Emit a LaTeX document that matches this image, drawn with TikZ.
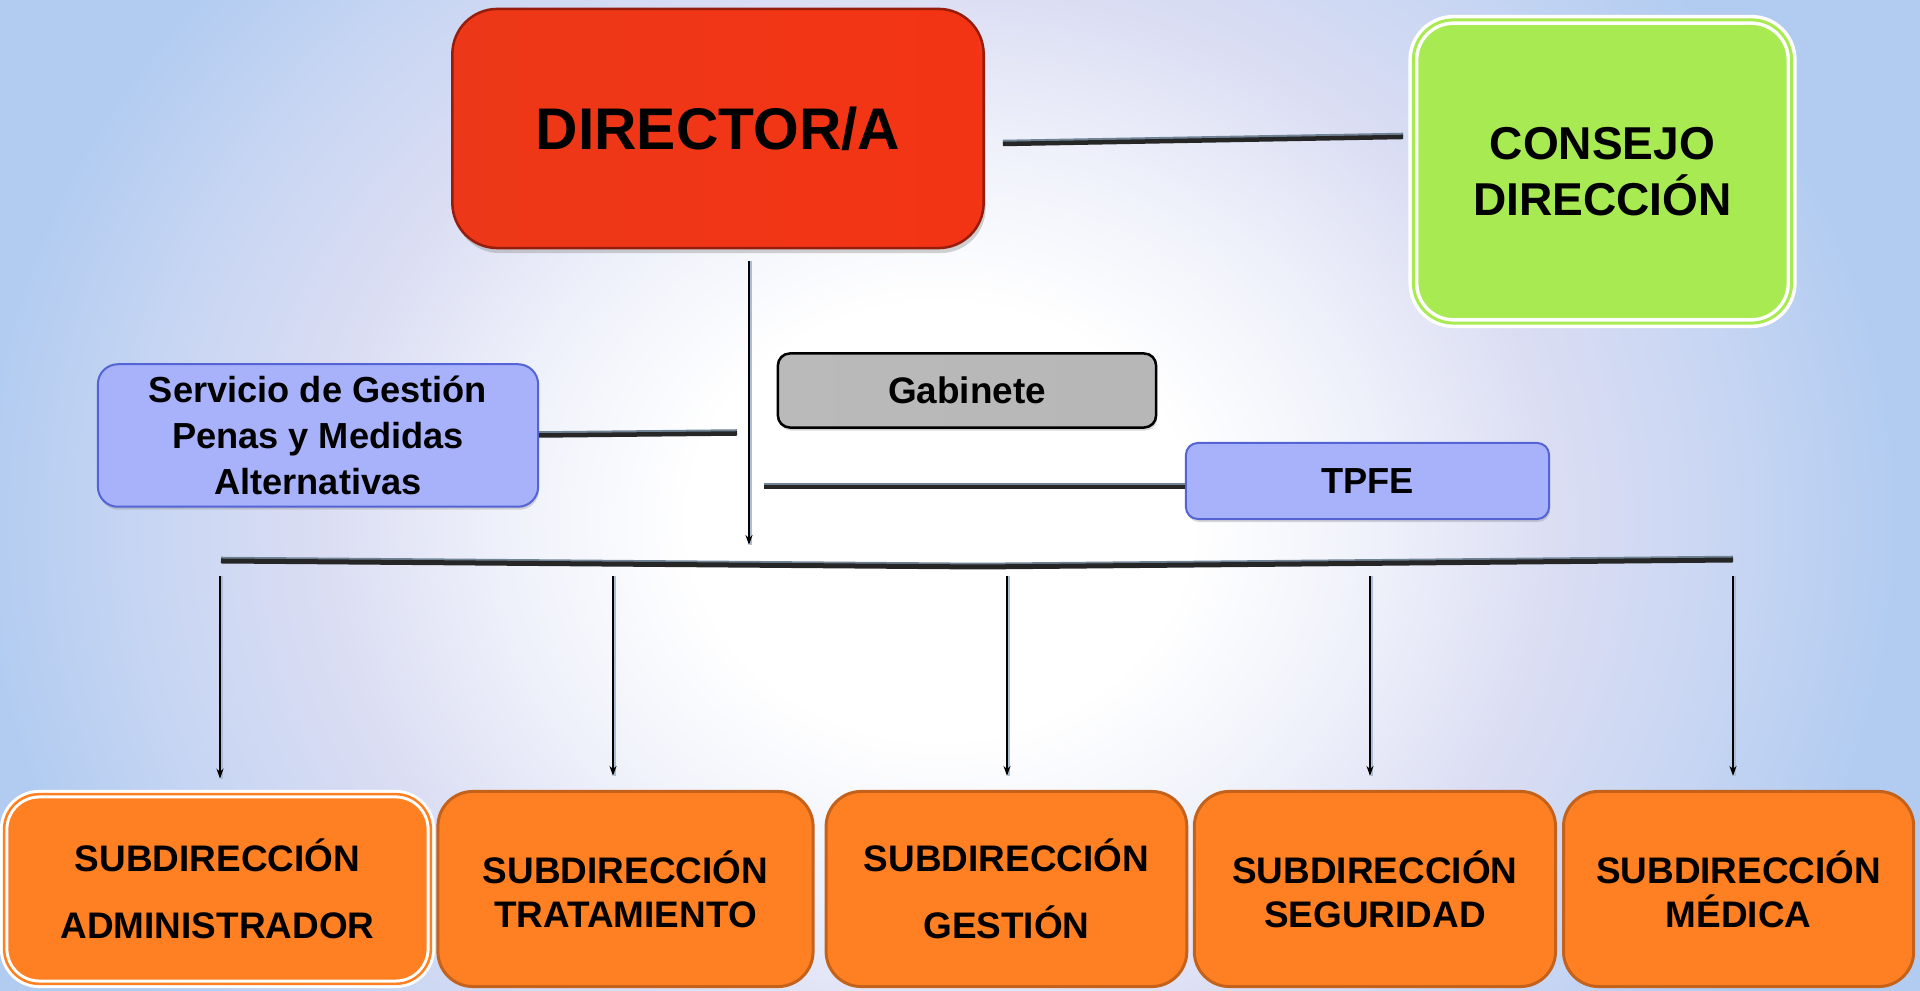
\documentclass[tikz,border=0pt]{standalone}
\usepackage{fontspec}
\setmainfont{Liberation Sans}
\usepackage{tikz}
\usepackage{xcolor}
\usetikzlibrary{positioning}
\usetikzlibrary{calc}
\usetikzlibrary{shadows}
\usetikzlibrary{arrows.meta}

\definecolor{bgblue}{RGB}{178,204,241}
\definecolor{bgmid}{RGB}{200,214,243}
\definecolor{bglav}{RGB}{218,221,243}
\definecolor{bgpale}{RGB}{241,243,251}
\definecolor{dirred}{RGB}{255,46,14}
\definecolor{dirdark}{RGB}{236,56,24}
\definecolor{dirline}{RGB}{150,28,12}
\definecolor{consegreen}{RGB}{168,234,82}
\definecolor{suborange}{RGB}{255,128,34}
\definecolor{subline}{RGB}{196,98,28}
\definecolor{bluemid}{RGB}{130,146,250}
\definecolor{bluelight}{RGB}{168,178,251}
\definecolor{blueline}{RGB}{84,100,212}
\definecolor{graymid}{RGB}{152,152,152}
\definecolor{graylight}{RGB}{186,186,186}
\definecolor{lineshade}{RGB}{112,132,150}
\definecolor{arrshade}{RGB}{170,190,215}

\pgfdeclareradialshading{bgshade}{\pgfpoint{0bp}{0bp}}{color(0bp)=(white); color(6bp)=(white); color(10bp)=(bgpale); color(15bp)=(bglav); color(19bp)=(bgmid); color(23bp)=(bgblue); color(50bp)=(bgblue)}

\begin{document}
\begin{tikzpicture}[x=0.01cm, y=0.01cm, align=center, font=\bfseries,
	dirnode/.style={rectangle, rounded corners=0.45cm, draw=dirline, line width=0.025cm, left color=dirdark, middle color=dirred, right color=dirdark!60!dirred, minimum width=5.31cm, minimum height=2.39cm, drop shadow={opacity=0.35, shadow xshift=0.02cm, shadow yshift=-0.05cm}, font=\bfseries\fontsize{16.7}{20}\selectfont},
	consejonode/.style={rectangle, rounded corners=0.4cm, fill=consegreen, draw=white, double=consegreen, line width=0.035cm, double distance=0.03cm, minimum width=3.78cm, minimum height=3.03cm, drop shadow={opacity=0.25, shadow xshift=0.02cm, shadow yshift=-0.04cm}, font=\bfseries\fontsize{13.1}{15.9}\selectfont},
	graynode/.style={rectangle, rounded corners=0.12cm, draw=black, line width=0.025cm, left color=graylight, middle color=graymid, right color=graylight!90!graymid, minimum width=3.78cm, minimum height=0.74cm, drop shadow={opacity=0.3, shadow xshift=0.01cm, shadow yshift=-0.03cm}, font=\bfseries\fontsize{10.5}{12.5}\selectfont},
	bluenode/.style={rectangle, draw=blueline, line width=0.02cm, left color=bluelight, middle color=bluemid, right color=bluelight, drop shadow={opacity=0.3, shadow xshift=0.01cm, shadow yshift=-0.03cm}, font=\bfseries\fontsize{10.3}{13.1}\selectfont},
	subnode/.style={rectangle, rounded corners=0.35cm, fill=suborange, draw=subline, line width=0.03cm, minimum width=#1, minimum height=1.95cm, font=\bfseries\fontsize{10.5}{12.5}\selectfont},
	subwhite/.style={draw=white, double=suborange, line width=0.03cm, double distance=0.025cm, minimum height=1.895cm},
	conn/.style={line width=0.045cm, draw=black!85, preaction={draw=lineshade, line width=0.045cm, transform canvas={yshift=0.02cm}}},
	arr/.style={line width=0.018cm, draw=black, ->, >={Stealth[length=0.1cm, width=0.07cm]}, preaction={draw=arrshade, -, line width=0.025cm, transform canvas={xshift=0.018cm}}}]

	% background
	\useasboundingbox (0,0) rectangle (1920,991);
	\begin{scope}
		\clip (0,0) rectangle (1920,991);
		\shade[shading=bgshade] (-100,-430) rectangle (1980,1370);
	\end{scope}

	% top level
	\node[dirnode] (director) at (718,862.5) {DIRECTOR/A};
	\node[consejonode] (consejo) at (1602.5,819.5) {CONSEJO\\DIRECCIÓN};

	% staff units
	\node[graynode] (gabinete) at (967,600.5) {Gabinete};
	\node[bluenode, rounded corners=0.2cm, minimum width=4.4cm, minimum height=1.37cm] (servicio) at (318,555.5) {Servicio de Gestión\\Penas y Medidas\\Alternativas};
	\node[bluenode, rounded corners=0.12cm, minimum width=3.63cm, minimum height=0.76cm] (tpfe) at (1367.5,510) {TPFE};

	% subdirecciones
	\node[subnode=4.265cm, subwhite] (subadmin) at (217.5,102) {SUBDIRECCIÓN\\[6.5pt]ADMINISTRADOR};
	\node[subnode=3.75cm, right=0.04cm of subadmin] (subtrat) {SUBDIRECCIÓN\\TRATAMIENTO};
	\node[subnode=3.605cm, right=0.1cm of subtrat] (subgest) {SUBDIRECCIÓN\\[6.5pt]GESTIÓN};
	\node[subnode=3.61cm, right=0.045cm of subgest] (subseg) {SUBDIRECCIÓN\\SEGURIDAD};
	\node[subnode=3.5cm, right=0.05cm of subseg] (submed) {SUBDIRECCIÓN\\MÉDICA};

	% connectors
	\coordinate (hub) at (749,446);
	\draw[conn] ([xshift=0.18cm,yshift=-0.155cm]director.east) -- ([xshift=-0.085cm,yshift=0.345cm]consejo.west);
	\draw[arr, shorten <=0.12cm] (director.south -| hub) -- (hub);
	\draw[conn] (servicio.east) -- ($(servicio.east -| hub)+(-12,2)$);
	\draw[conn] ($([yshift=-0.06cm]tpfe.west -| hub)+(15,0)$) -- ([yshift=-0.06cm]tpfe.west);

	\coordinate (busL) at (221,430);
	\coordinate (busM) at (980,424);
	\coordinate (busR) at (1733,431);
	\draw[conn, line width=0.05cm] (busL) -- (busM) -- (busR);

	\foreach \x/\n in {220/subadmin, 613/subtrat, 1007/subgest, 1370/subseg, 1733/submed} {
		\coordinate (drop-\n) at (\x,415);
		\draw[arr, shorten >=0.14cm] (drop-\n) -- (drop-\n |- \n.north);
	}
\end{tikzpicture}
\end{document}
